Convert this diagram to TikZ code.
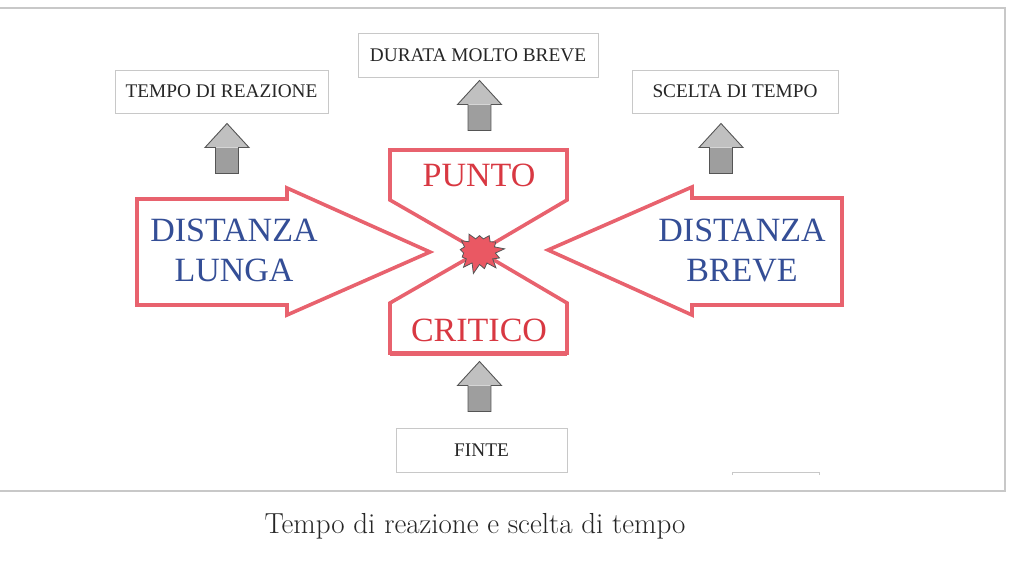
\documentclass[tikz,border=0pt]{standalone}
\usepackage{fontspec}
\newfontfamily\timesfont{Liberation Serif}
\usepackage{tikz}
\usetikzlibrary{calc, shapes.symbols}

\definecolor{redline}{RGB}{232,98,110}
\definecolor{redtext}{RGB}{216,56,66}
\definecolor{bluetext}{RGB}{52,78,150}
\definecolor{boxgray}{RGB}{200,200,200}
\definecolor{headgray}{RGB}{192,192,192}
\definecolor{shaftgray}{RGB}{158,158,158}
\definecolor{arrowedge}{RGB}{85,85,85}

\begin{document}
\begin{tikzpicture}[x=1pt, y=-1pt,
    labelbox/.style={draw=boxgray, line width=1pt, inner sep=0pt, text=black!85,
        font=\timesfont\fontsize{19.3}{22}\selectfont},
    bigred/.style={text=redtext, font=\timesfont\fontsize{34}{40}\selectfont},
    bigblue/.style={text=bluetext, align=center, font=\timesfont\fontsize{34}{40}\selectfont},
    redshape/.style={draw=redline, line width=3.6pt, line join=miter},
    pics/grayup/.style={code={
        \fill[shaftgray] (-11.5,0) rectangle (11.5,-26);
        \fill[headgray] (-22,-26) -- (0,-50) -- (22,-26) -- cycle;
        \draw[arrowedge, line width=0.9pt] (-11.5,0) -- (-11.5,-26) -- (-22,-26) -- (0,-50)
            -- (22,-26) -- (11.5,-26) -- (11.5,0) -- cycle;
    }}]
    \useasboundingbox (0,0) rectangle (1024,562);
    \draw[boxgray, line width=1.2pt] (0,8) -- (1005,8) -- (1005,491) -- (0,491);

    \node[labelbox, minimum width=213pt, minimum height=43pt] (tempo) at (221.5,91.5) {TEMPO DI REAZIONE};
    \node[labelbox, minimum width=240pt, minimum height=44pt] (durata) at (478,55) {DURATA MOLTO BREVE};
    \node[labelbox, minimum width=206pt, minimum height=43pt] (scelta) at (735,91.5) {SCELTA DI TEMPO};
    \node[labelbox, minimum width=171pt, minimum height=44pt] (finte) at (481.5,450) {FINTE};

    \coordinate (crux) at (479.5,251.5);
    \draw[redshape] (390,150) -- (567,150) -- (567,200) -- (crux) -- (567,303) -- (567,353)
        -- (390,353) -- (390,303) -- (crux) -- (390,200) -- cycle;
    \draw[redline, line width=5pt] (390,353) -- (567,353);
    \draw[redshape] (137,199) -- (287,199) -- (287,188) -- (430,252) -- (287,315) -- (287,305) -- (137,305) -- cycle;
    \draw[redshape] (548,250) -- (692,187) -- (692,198) -- (842,198) -- (842,305) -- (692,305) -- (692,315) -- cycle;

    \node[bigred] (punto) at (479,175) {PUNTO};
    \node[bigred] (critico) at (479,330) {CRITICO};
    \node[bigblue] (lunga) at (234,250) {DISTANZA\\LUNGA};
    \node[bigblue] (breve) at (742,250) {DISTANZA\\BREVE};

    \node[starburst, starburst points=13, starburst point height=10pt, random starburst=13,
        fill=redline!90!red, draw=arrowedge, line width=0.8pt, inner sep=0pt,
        minimum width=52pt, minimum height=46pt] (scoppio) at (crux) {};

    \pic at ($(tempo.south) + (5.5,60)$) {grayup};
    \pic at ($(durata.south) + (1.5,53)$) {grayup};
    \pic at ($(scelta.south) + (-14,60)$) {grayup};
    \pic at ($(finte.north) + (-2,-16)$) {grayup};

    \draw[boxgray, line width=1pt] (732,475) -- (732,472) -- (819,472) -- (819,475);

    \node[text=black!85, font=\fontsize{29}{34}\selectfont] (legenda) at (475,526) {Tempo di reazione e scelta di tempo};
\end{tikzpicture}
\end{document}
